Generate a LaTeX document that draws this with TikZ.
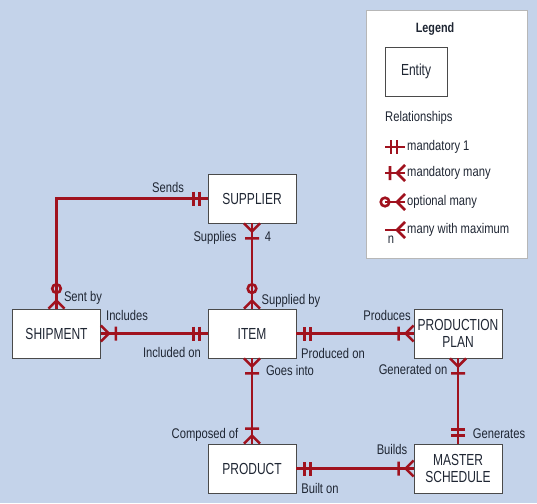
\documentclass[tikz,border=0pt]{standalone}
\usepackage{fontspec}
\setmainfont{Liberation Sans}[FakeStretch=0.8]
\newfontfamily\entityfont{Liberation Sans}[FakeStretch=0.75]
\usetikzlibrary{positioning,calc}
\definecolor{bgblue}{HTML}{C4D3EA}
\definecolor{relred}{HTML}{A0121E}
\definecolor{boxgray}{HTML}{4A4A4A}
\definecolor{txt}{HTML}{1F2633}

\begin{document}
\begin{tikzpicture}[x=1pt,y=-1pt,
    font=\fontsize{14}{15}\selectfont,text=txt,
    entity/.style={draw=boxgray,fill=white,line width=0.8pt,minimum width=88pt,minimum height=49pt,
      inner sep=0pt,align=center,font=\entityfont\fontsize{16}{17.5}\selectfont},
    rel/.style={draw=relred,line width=2.6pt},
    lbl/.style={anchor=base,inner sep=0pt},
    pics/mandone/.style={code={\draw[rel] (-14,-7) -- (-14,7) (-8,-7) -- (-8,7);}},
    pics/mandmany/.style={code={\draw[rel] (0,-8) -- (-8,0) -- (0,8) (-15,-7) -- (-15,7);}},
    pics/optmany/.style={code={\draw[rel] (0,-8) -- (-8,0) -- (0,8) (-20,0) circle (4.3);}},
    pics/maxmany/.style={code={\draw[rel] (0,-8) -- (-8,0) -- (0,8);}}
]
      \fill [bgblue] (0,0) rectangle (537,503);

      % legend
      \node [draw=boxgray!40,fill=white,minimum width=161pt,minimum height=248pt,inner sep=0pt] (legend) at (446.5,134) {};
      \node [lbl,font=\fontsize{13.5}{15}\selectfont\bfseries] (legendtitle) at (435,33) {Legend};
      \node [entity,minimum width=62pt] (entitykey) at (416,71.5) {Entity};
      \node [anchor=base west,inner sep=0pt] (relkey) at (385,121) {Relationships};

      \node [anchor=west,inner sep=2pt] (keyone) at (405,147) {mandatory 1};
      \node [anchor=west,inner sep=2pt] (keymany) at (405,173) {mandatory many};
      \node [anchor=west,inner sep=2pt] (keyopt) at (405,202) {optional many};
      \node [anchor=west,inner sep=2pt] (keymax) at (405,230) {many with maximum};
      \node [lbl] (keyn) at (391,243) {n};

      \coordinate (keyonestart) at (385,147);
      \coordinate (keymanystart) at (385,173);
      \coordinate (keyoptstart) at (385,202);
      \coordinate (keymaxstart) at (385,230);
      \draw [rel] (keyonestart) -- (keyone.west);
      \draw [rel] (keymanystart) -- (keymany.west);
      \draw [rel] (keyoptstart) -- (keyopt.west);
      \draw [rel] (keymaxstart) -- (keymax.west);
      \pic at (keyone.west) {mandone};
      \pic at (keymany.west) {mandmany};
      \pic at (keyopt.west) {optmany};
      \pic at (keymax.west) {maxmany};

      % entities
      \node [entity] (supplier) at (252,198.5) {SUPPLIER};
      \node [entity] (shipment) at (56.5,333.5) {SHIPMENT};
      \node [entity] (item) at (252,333.5) {ITEM};
      \node [entity] (plan) at (458,333.5) {PRODUCTION\\PLAN};
      \node [entity] (product) at (252,468.5) {PRODUCT};
      \node [entity] (master) at (458,468.5) {MASTER\\SCHEDULE};

      % relationships
      \draw [rel] (supplier.west) -| (shipment.north);
      \draw [rel] (supplier.south) -- (item.north);
      \draw [rel] (shipment.east) -- (item.west);
      \draw [rel] (item.east) -- (plan.west);
      \draw [rel] (item.south) -- (product.north);
      \draw [rel] (plan.south) -- (master.north);
      \draw [rel] (product.east) -- (master.west);

      \pic at (supplier.west) {mandone};
      \pic [rotate=-90] at (shipment.north) {optmany};
      \pic [rotate=90] at (supplier.south) {mandmany};
      \pic [rotate=-90] at (item.north) {optmany};
      \pic [rotate=180] at (shipment.east) {mandmany};
      \pic at (item.west) {mandone};
      \pic [rotate=180] at (item.east) {mandone};
      \pic at (plan.west) {mandmany};
      \pic [rotate=90] at (item.south) {mandmany};
      \pic [rotate=-90] at (product.north) {mandmany};
      \pic [rotate=90] at (plan.south) {mandmany};
      \pic [rotate=-90] at (master.north) {mandone};
      \pic [rotate=180] at (product.east) {mandone};
      \pic at (master.west) {mandmany};

      % role names
      \node [lbl] (sends) at (168,192) {Sends};
      \node [lbl] (supplies) at (215,241) {Supplies};
      \node [lbl] (maxfour) at (268,241) {4};
      \node [lbl] (sentby) at (83,301) {Sent by};
      \node [lbl] (suppliedby) at (291,304) {Supplied by};
      \node [lbl] (includes) at (127,320) {Includes};
      \node [lbl] (includedon) at (172,357) {Included on};
      \node [lbl] (produces) at (387,320) {Produces};
      \node [lbl] (producedon) at (333,358) {Produced on};
      \node [lbl] (goesinto) at (290,375) {Goes into};
      \node [lbl] (generatedon) at (413,374) {Generated on};
      \node [lbl] (composedof) at (205,438) {Composed of};
      \node [lbl] (generates) at (499,438) {Generates};
      \node [lbl] (builds) at (392,454) {Builds};
      \node [lbl] (builton) at (320,493) {Built on};
\end{tikzpicture}
\end{document}
